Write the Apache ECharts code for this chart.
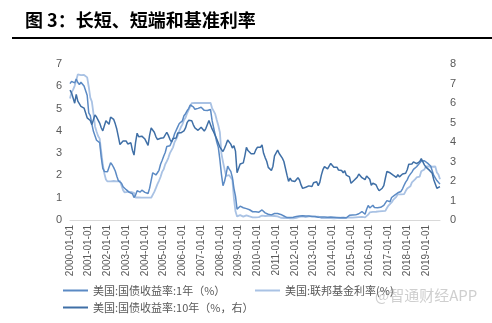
<!DOCTYPE html>
<html><head><meta charset="utf-8">
<script src="https://cdn.jsdelivr.net/npm/echarts@6/dist/echarts.min.js"></script>
<style>html,body{margin:0;padding:0;background:#fff;}#c{width:492px;height:323px;}</style>
</head><body><div id="c"></div>
<script>
const startYear = 2000;
const yearTicks = ['2000-01-01','2001-01-01','2002-01-01','2003-01-01','2004-01-01','2005-01-01','2006-01-01','2007-01-01','2008-01-01','2009-01-01','2010-01-01','2011-01-01','2012-01-01','2013-01-01','2014-01-01','2015-01-01','2016-01-01','2017-01-01','2018-01-01','2019-01-01'];
const leftTicks = [0,1,2,3,4,5,6,7];
const rightTicks = [0,1,2,3,4,5,6,7,8];
const seriesNames = ['美国:国债收益率:1年（%）','美国:联邦基金利率(%)','美国:国债收益率:10年（%，右）'];
// Monthly values, 2000-01 .. 2019-10
const y1 = [
6.12,6.22,6.22,6.15,6.33,6.17,6.08,6.18,6.13,6.01,6.09,5.60,
4.81,4.68,4.30,3.98,3.78,3.58,3.62,3.47,2.82,2.33,2.18,2.22,
2.16,2.23,2.57,2.48,2.35,2.20,1.96,1.76,1.72,1.65,1.49,1.45,
1.36,1.30,1.24,1.27,1.18,1.01,1.12,1.31,1.24,1.25,1.34,1.31,
1.24,1.24,1.19,1.43,1.78,2.12,2.10,2.02,2.12,2.23,2.50,2.67,
2.86,3.03,3.30,3.32,3.33,3.36,3.64,3.87,3.85,4.18,4.33,4.35,
4.45,4.68,4.77,4.90,5.00,5.16,5.22,5.08,4.97,5.01,5.01,4.94,
5.06,5.05,4.92,4.93,4.91,4.96,4.96,4.47,4.14,4.10,3.50,3.26,
2.71,2.05,1.54,1.74,2.06,2.42,2.28,2.18,1.91,1.42,1.07,0.49,
0.44,0.62,0.64,0.55,0.50,0.51,0.48,0.46,0.40,0.37,0.31,0.37,
0.35,0.35,0.40,0.45,0.37,0.32,0.29,0.26,0.26,0.23,0.25,0.29,
0.27,0.29,0.26,0.25,0.19,0.18,0.19,0.11,0.10,0.11,0.11,0.12,
0.12,0.16,0.19,0.18,0.19,0.19,0.19,0.18,0.18,0.18,0.18,0.16,
0.15,0.16,0.15,0.12,0.12,0.14,0.12,0.13,0.12,0.12,0.12,0.13,
0.12,0.12,0.13,0.11,0.10,0.10,0.11,0.11,0.11,0.10,0.13,0.21,
0.20,0.22,0.25,0.23,0.24,0.28,0.30,0.38,0.37,0.26,0.48,0.65,
0.54,0.53,0.66,0.56,0.59,0.55,0.51,0.57,0.59,0.66,0.74,0.87,
0.83,0.82,1.01,1.04,1.12,1.20,1.22,1.23,1.28,1.40,1.56,1.70,
1.80,1.96,2.06,2.15,2.27,2.33,2.39,2.45,2.56,2.65,2.70,2.66,
2.58,2.55,2.49,2.42,2.34,2.00,1.96,1.77,1.80,1.61];
const fedFunds = [
5.45,5.73,5.85,6.02,6.27,6.53,6.54,6.50,6.52,6.51,6.51,6.40,
5.98,5.49,5.31,4.80,4.21,3.97,3.77,3.65,3.07,2.49,2.09,1.82,
1.73,1.74,1.73,1.75,1.75,1.75,1.73,1.74,1.75,1.75,1.34,1.24,
1.24,1.26,1.25,1.26,1.26,1.22,1.01,1.03,1.01,1.01,1.00,0.98,
1.00,1.01,1.00,1.00,1.00,1.03,1.26,1.43,1.61,1.76,1.93,2.16,
2.28,2.50,2.63,2.79,3.00,3.04,3.26,3.50,3.62,3.78,4.00,4.16,
4.29,4.49,4.59,4.79,4.94,4.99,5.24,5.25,5.25,5.25,5.25,5.24,
5.25,5.26,5.26,5.25,5.25,5.25,5.26,5.02,4.94,4.76,4.49,4.24,
3.94,2.98,2.61,2.28,1.98,2.00,2.01,2.00,1.81,0.97,0.39,0.16,
0.15,0.22,0.18,0.15,0.18,0.21,0.16,0.16,0.15,0.12,0.12,0.12,
0.11,0.13,0.16,0.20,0.20,0.18,0.18,0.19,0.19,0.19,0.19,0.18,
0.17,0.16,0.14,0.10,0.09,0.09,0.07,0.10,0.08,0.07,0.08,0.07,
0.08,0.10,0.13,0.14,0.16,0.16,0.16,0.13,0.14,0.16,0.16,0.16,
0.14,0.15,0.14,0.15,0.11,0.09,0.09,0.08,0.08,0.09,0.08,0.09,
0.07,0.07,0.08,0.09,0.09,0.10,0.09,0.09,0.09,0.09,0.09,0.12,
0.11,0.11,0.11,0.12,0.12,0.13,0.13,0.14,0.14,0.12,0.12,0.24,
0.34,0.38,0.36,0.37,0.37,0.38,0.39,0.40,0.40,0.40,0.41,0.54,
0.65,0.66,0.79,0.90,0.91,1.04,1.15,1.16,1.15,1.15,1.16,1.30,
1.41,1.42,1.51,1.69,1.70,1.82,1.91,1.91,1.95,2.19,2.20,2.27,
2.40,2.40,2.41,2.42,2.39,2.38,2.40,2.13,2.04,1.83];
const y10 = [
6.66,6.52,6.26,5.99,6.44,6.10,6.05,5.83,5.80,5.74,5.72,5.24,
5.16,5.10,4.89,5.14,5.39,5.28,5.24,4.97,4.73,4.57,4.65,5.09,
5.04,4.91,5.28,5.21,5.16,4.93,4.65,4.26,3.87,3.94,4.05,4.03,
4.05,3.90,3.81,3.96,3.57,3.33,3.98,4.45,4.27,4.29,4.30,4.27,
4.15,4.08,3.83,4.35,4.72,4.73,4.50,4.28,4.13,4.10,4.19,4.23,
4.22,4.17,4.50,4.34,4.14,4.00,4.18,4.26,4.20,4.46,4.54,4.47,
4.42,4.57,4.72,4.99,5.11,5.11,5.09,4.88,4.72,4.73,4.60,4.56,
4.76,4.72,4.56,4.69,4.75,5.10,5.00,4.67,4.52,4.53,4.15,4.10,
3.74,3.74,3.51,3.68,3.88,4.10,4.01,3.89,3.69,3.81,3.53,2.42,
2.52,2.87,2.82,2.93,3.29,3.72,3.56,3.59,3.40,3.39,3.40,3.59,
3.73,3.69,3.73,3.85,3.42,3.20,3.01,2.70,2.65,2.54,2.76,3.29,
3.39,3.58,3.41,3.46,3.17,3.00,3.00,2.30,1.98,2.15,2.01,1.98,
1.97,1.97,2.17,2.05,1.80,1.62,1.53,1.68,1.72,1.75,1.65,1.72,
1.91,1.98,1.96,1.76,1.93,2.30,2.58,2.74,2.81,2.62,2.72,2.90,
2.86,2.71,2.72,2.71,2.56,2.60,2.54,2.42,2.53,2.30,2.33,2.21,
1.88,1.98,2.04,1.94,2.20,2.36,2.32,2.17,2.17,2.07,2.26,2.24,
2.09,1.78,1.89,1.81,1.81,1.64,1.50,1.56,1.63,1.76,2.14,2.49,
2.43,2.42,2.48,2.30,2.30,2.19,2.32,2.21,2.20,2.36,2.35,2.40,
2.58,2.86,2.84,2.87,2.98,2.91,2.89,2.89,3.00,3.15,3.12,2.83,
2.71,2.68,2.57,2.53,2.40,2.07,2.06,1.63,1.70,1.71];

const dates = [];
for (let i = 0; i < y1.length; i++) {
  const yr = startYear + Math.floor(i / 12), m = (i % 12) + 1;
  dates.push(yr + '-' + String(m).padStart(2, '0') + '-01');
}
const c1 = '#5b8ac4', c2 = '#a9c2e4', c3 = '#3f6fa6';
const chart = echarts.init(document.getElementById('c'), null, {renderer: 'canvas'});
const lab = {color: '#595959', fontSize: 11, fontFamily: 'Liberation Sans, Arial, sans-serif'};
const legTxt = {color: '#595959', fontSize: 11, fontFamily: 'Noto Sans CJK SC'};
chart.setOption({
  animation: false,
  graphic: [
    {type: 'text', left: 25, top: 11, style: {text: '图 3：长短、短端和基准利率', font: 'bold 18px "Noto Sans CJK SC"', fill: '#000'}},
    {type: 'rect', shape: {x: 12, y: 37, width: 480, height: 2}, style: {fill: '#000'}},
    {type: 'text', left: 375, top: 288, style: {text: '@智通财经APP', font: '15px "Noto Sans CJK SC"', fill: '#cfcfcf'}}
  ],
  grid: {left: 70, right: 52, top: 64, bottom: 103},
  legend: [
    {data: [seriesNames[0]], left: 58, top: 280, icon: 'rect', itemWidth: 25, itemHeight: 2, itemGap: 5, textStyle: legTxt},
    {data: [seriesNames[1]], left: 250, top: 280, icon: 'rect', itemWidth: 25, itemHeight: 2, textStyle: legTxt},
    {data: [seriesNames[2]], left: 58, top: 297, icon: 'rect', itemWidth: 25, itemHeight: 2, textStyle: legTxt}
  ],
  xAxis: {
    type: 'category', data: dates, boundaryGap: false,
    axisLine: {lineStyle: {color: '#d9d9d9'}},
    axisTick: {show: false},
    axisLabel: {rotate: 90, interval: (idx) => idx % 12 === 0, formatter: (v) => yearTicks.includes(v) ? v : '', color: '#595959', fontSize: 10, fontFamily: 'Liberation Sans, Arial, sans-serif', margin: 5}
  },
  yAxis: [
    {type: 'value', min: leftTicks[0], max: leftTicks[leftTicks.length-1], interval: 1, axisLine: {show: false}, axisTick: {show: false}, splitLine: {show: false}, axisLabel: Object.assign({margin: 8}, lab)},
    {type: 'value', min: rightTicks[0], max: rightTicks[rightTicks.length-1], interval: 1, axisLine: {show: false}, axisTick: {show: false}, splitLine: {show: false}, axisLabel: Object.assign({margin: 10}, lab)}
  ],
  series: [
    {name: seriesNames[1], type: 'line', data: fedFunds, yAxisIndex: 0, showSymbol: false, lineStyle: {width: 1.8, color: c2}, itemStyle: {color: c2}},
    {name: seriesNames[0], type: 'line', data: y1, yAxisIndex: 0, showSymbol: false, lineStyle: {width: 1.5, color: c1}, itemStyle: {color: c1}},
    {name: seriesNames[2], type: 'line', data: y10, yAxisIndex: 1, showSymbol: false, lineStyle: {width: 1.5, color: c3}, itemStyle: {color: c3}}
  ]
});
</script></body></html>
